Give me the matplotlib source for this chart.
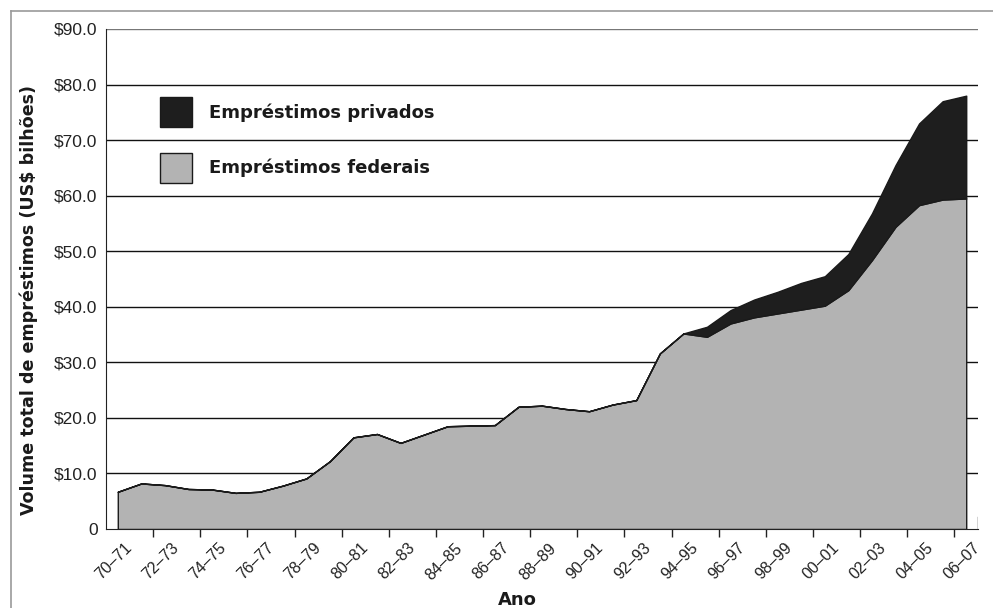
"""Student loan volume by year, federal vs private, stacked area chart"""

import matplotlib.pyplot as plt
from matplotlib.lines import Line2D
import numpy as np

# academic years 70-71 .. 06-07 (one point per year)
years = [f"{y % 100:02d}\u2013{(y + 1) % 100:02d}" for y in range(70, 107)]

# US$ billions
federal = [6.7, 8.2, 7.9, 7.2, 7.1, 6.5, 6.7, 7.8, 9.1, 12.2,
           16.5, 17.1, 15.5, 17.0, 18.5, 18.6, 18.7, 22.0, 22.2, 21.6,
           21.2, 22.4, 23.2, 31.6, 35.2, 34.6, 37.0, 38.1, 38.8, 39.5,
           40.2, 43.0, 48.4, 54.4, 58.3, 59.3, 59.5]
private = [0, 0, 0, 0, 0, 0, 0, 0, 0, 0,
           0, 0, 0, 0, 0, 0, 0, 0, 0, 0,
           0, 0, 0, 0, 0, 1.8, 2.4, 3.2, 3.9, 4.8,
           5.3, 6.5, 8.4, 11.1, 14.7, 17.7, 18.5]

y_ticks = [0, 10, 20, 30, 40, 50, 60, 70, 80, 90]
y_labels = ["0"] + [f"${v:.1f}" for v in y_ticks[1:]]

TICK_FONT = ["Liberation Sans", "DejaVu Sans"]
BOLD_FONT = ["DejaVu Sans"]


def plot_loans():
    fig = plt.figure(figsize=(9.93, 6.08), dpi=100)
    ax = fig.add_axes([106 / 993, 1 - 529 / 608, 872 / 993, 500 / 608])

    x = np.arange(len(years))
    polys = ax.stackplot(x, federal, private,
                         colors=["#b3b3b3", "#1e1e1e"],
                         edgecolor="#1a1a1a", linewidth=1.0, zorder=3,
                         labels=["Empréstimos federais", "Empréstimos privados"])

    ax.set_xlim(-0.5, len(years) - 0.5)
    ax.set_ylim(0, 90)

    # horizontal grid
    for v in y_ticks[1:]:
        ax.axhline(v, color="#111111" if v < 90 else "#777777", lw=1.0, zorder=1)
    ax.set_yticks(y_ticks)
    ax.set_yticklabels(y_labels, family=TICK_FONT, fontsize=12.5, color="#222222")
    ax.tick_params(axis="y", length=0, pad=6)

    # labels every other year, tick marks between years
    ax.set_xticks(x[::2] + 0.5)
    ax.set_xticklabels(years[::2], rotation=45, ha="right", va="center",
                       rotation_mode="anchor", family=TICK_FONT, fontsize=11.5,
                       color="#222222")
    ax.set_xticks(x[:-1] + 0.5, minor=True)
    ax.tick_params(axis="x", which="major", length=0, pad=12)
    ax.tick_params(axis="x", which="minor", length=6, width=1.0, color="#222222")
    ax.axvline(len(years) - 0.5, 0, 0.024, color="#222222", lw=1.0)

    for side in ["top", "right"]:
        ax.spines[side].set_visible(False)
    ax.spines["left"].set_color("#222222")
    ax.spines["bottom"].set_color("#222222")
    ax.spines["bottom"].set_zorder(4)

    ax.set_ylabel("Volume total de empréstimos (US$ bilhões)", family=BOLD_FONT,
                  fontweight="bold", fontsize=12.6, color="#1a1a1a")
    ax.yaxis.set_label_coords(38 / 993, 1 - 300 / 608, transform=fig.transFigure)
    fig.text(517 / 993, 1 - 600 / 608, "Ano", family=BOLD_FONT, fontweight="bold",
             fontsize=13, ha="center", va="center", color="#1a1a1a")

    leg = ax.legend(handles=polys[::-1], loc="upper left",
                    bbox_to_anchor=(160 / 993, 1 - 97 / 608),
                    bbox_transform=fig.transFigure, frameon=False,
                    borderpad=0, borderaxespad=0, handlelength=1.75,
                    handleheight=2.2, handletextpad=0.95, labelspacing=1.4,
                    prop={"family": BOLD_FONT, "weight": "bold", "size": 13})
    for t in leg.get_texts():
        t.set_color("#1a1a1a")

    # light frame around the figure
    fig.add_artist(Line2D([11 / 993, 1], [1 - 11 / 608] * 2, color="#9a9a9a", lw=1.2))
    fig.add_artist(Line2D([11 / 993] * 2, [0, 1 - 11 / 608], color="#9a9a9a", lw=1.2))

    fig.savefig("out.png", dpi=100)


if __name__ == '__main__':
    plot_loans()
